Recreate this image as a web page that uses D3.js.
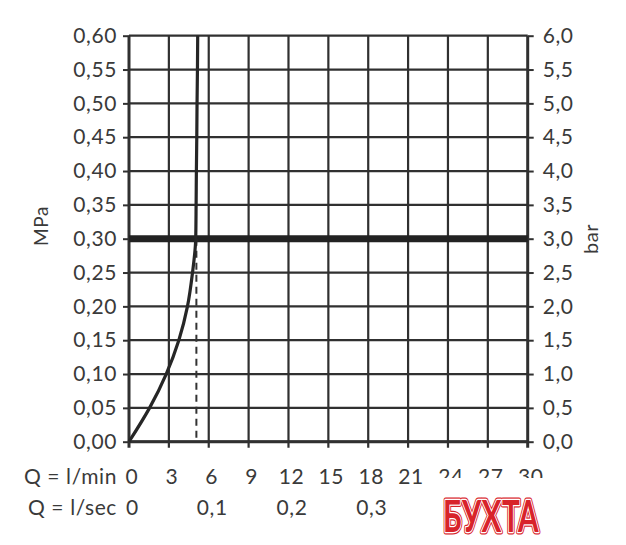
<!DOCTYPE html>
<html>
<head>
<meta charset="utf-8">
<script src="https://cdn.jsdelivr.net/npm/d3@7"></script>
<style>
  body { margin: 0; background: #fff; }
  svg text { font-family: Lato, "Open Sans", sans-serif; fill: #3a3a3a; letter-spacing: 0.6px; }
</style>
</head>
<body>
<div id="chart"></div>
<script>
// Data
var pressureMPa = [0, 0.05, 0.10, 0.15, 0.20, 0.25, 0.30, 0.35, 0.40, 0.45, 0.50, 0.55, 0.60];
var flowLmin    = [0, 1.55, 2.8, 3.75, 4.4, 4.78, 5.02, 5.05, 5.07, 5.1, 5.12, 5.15, 5.17];
var workPressure = 0.30;   // heavy horizontal line
var workFlow = 5.07;       // dashed drop line
var lminTicks = [0, 3, 6, 9, 12, 15, 18, 21, 24, 27, 30];
var lsecTicks = [0, 0.1, 0.2, 0.3];
var mpaTicks = d3.range(0, 0.601, 0.05);
var barTicks = d3.range(0, 6.01, 0.5);

var width = 626, height = 545;
var margin = { top: 35.7, left: 129, right: 98.3, bottom: 103.3 };
var innerW = width - margin.left - margin.right,
    innerH = height - margin.top - margin.bottom;

var svg = d3.select("#chart").append("svg")
  .attr("width", width)
  .attr("height", height);

var g = svg.append("g")
  .attr("transform", "translate(" + margin.left + "," + margin.top + ")");

// Scales
var x = d3.scaleLinear().domain([0, 30]).range([0, innerW]);
var xSec = d3.scaleLinear().domain([0, 0.5]).range([0, innerW]);
var y = d3.scaleLinear().domain([0, 0.6]).range([innerH, 0]);
var yBar = d3.scaleLinear().domain([0, 6]).range([innerH, 0]);

var comma = function(f) { return function(d) { return d3.format(f)(d).replace(".", ","); }; };
var gridColor = "#303030";

// Left ticks + labels
var left = g.append("g")
  .call(d3.axisLeft(y).tickValues(mpaTicks).tickSize(6).tickFormat(comma(".2f")));
left.select(".domain").remove();
left.selectAll("line").attr("stroke", gridColor).attr("stroke-width", 2);
left.selectAll("text").attr("x", -12).attr("font-size", 21).attr("fill", "#3a3a3a");

// Right ticks + labels (bar)
var right = g.append("g")
  .attr("transform", "translate(" + innerW + ",0)")
  .call(d3.axisRight(yBar).tickValues(barTicks).tickSize(6).tickFormat(comma(".1f")));
right.select(".domain").remove();
right.selectAll("line").attr("stroke", gridColor).attr("stroke-width", 2);
right.selectAll("text").attr("x", 15).attr("font-size", 21).attr("fill", "#3a3a3a");

// Horizontal grid
g.append("g").selectAll("line")
  .data(mpaTicks)
  .enter().append("line")
    .attr("x1", 0).attr("x2", innerW)
    .attr("y1", function(d) { return y(d); })
    .attr("y2", function(d) { return y(d); })
    .attr("stroke", gridColor)
    .attr("stroke-width", 2.2);

// Vertical grid + bottom ticks
g.append("g").selectAll("line")
  .data(lminTicks)
  .enter().append("line")
    .attr("x1", function(d) { return x(d); })
    .attr("x2", function(d) { return x(d); })
    .attr("y1", 0).attr("y2", innerH + 6)
    .attr("stroke", gridColor)
    .attr("stroke-width", function(d) { return d === 0 || d === 30 ? 3 : 2.2; });

// Frame bottom
g.append("line")
  .attr("x1", 0).attr("x2", innerW)
  .attr("y1", innerH).attr("y2", innerH)
  .attr("stroke", gridColor).attr("stroke-width", 3);

// Heavy working pressure line
g.append("line")
  .attr("x1", 0).attr("x2", innerW)
  .attr("y1", y(workPressure)).attr("y2", y(workPressure))
  .attr("stroke", "#222").attr("stroke-width", 7);

// Dashed drop line
g.append("line")
  .attr("x1", x(workFlow)).attr("x2", x(workFlow))
  .attr("y1", y(workPressure)).attr("y2", innerH)
  .attr("stroke", "#333").attr("stroke-width", 2)
  .attr("stroke-dasharray", "7,5");

// Flow curve
var line = d3.line()
  .x(function(d) { return x(d[0]); })
  .y(function(d) { return y(d[1]); })
  .curve(d3.curveMonotoneY);

g.append("path")
  .datum(d3.zip(flowLmin, pressureMPa))
  .attr("fill", "none")
  .attr("stroke", "#262626")
  .attr("stroke-width", 3.2)
  .attr("d", line);

// Bottom label rows
var rows = svg.append("g").attr("font-size", 21);
rows.selectAll(".lmin")
  .data(lminTicks)
  .enter().append("text")
    .attr("class", "lmin")
    .attr("x", function(d) { return margin.left + x(d) + 3; })
    .attr("y", 484)
    .attr("text-anchor", "middle")
    .text(function(d) { return d; });

rows.selectAll(".lsec")
  .data(lsecTicks)
  .enter().append("text")
    .attr("class", "lsec")
    .attr("x", function(d) { return margin.left + xSec(d) + 3.5; })
    .attr("y", 515)
    .attr("text-anchor", "middle")
    .text(function(d) { return d === 0 ? "0" : comma(".1f")(d); });

rows.append("text").attr("x", 117).attr("y", 484).attr("text-anchor", "end").text("Q = l/min");
rows.append("text").attr("x", 117).attr("y", 515).attr("text-anchor", "end").text("Q = l/sec");

// Axis titles
svg.append("text")
  .attr("transform", "translate(48,226) rotate(-90)")
  .attr("text-anchor", "middle")
  .attr("font-size", 19)
  .text("MPa");

svg.append("text")
  .attr("transform", "translate(598,239) rotate(-90)")
  .attr("text-anchor", "middle")
  .attr("font-size", 20)
  .text("bar");

// Watermark
svg.append("rect")
  .attr("x", 437).attr("y", 478).attr("width", 110).attr("height", 62)
  .attr("fill", "#fff");

var mark = svg.append("g")
  .attr("font-family", "'DejaVu Serif', serif")
  .attr("font-weight", "bold")
  .attr("font-size", 44);
[["#d8232a", 5], ["#fff", 2.5]].forEach(function(s) {
  mark.append("text")
    .attr("x", 443).attr("y", 532)
    .attr("textLength", 96).attr("lengthAdjust", "spacingAndGlyphs")
    .style("fill", s[0]).style("stroke", s[0]).attr("stroke-width", s[1])
    .attr("stroke-linejoin", "round")
    .text("БУХТА");
});
mark.append("text")
  .attr("x", 443).attr("y", 532)
  .attr("textLength", 96).attr("lengthAdjust", "spacingAndGlyphs")
  .style("fill", "#d8232a")
  .text("БУХТА");
</script>
</body>
</html>
